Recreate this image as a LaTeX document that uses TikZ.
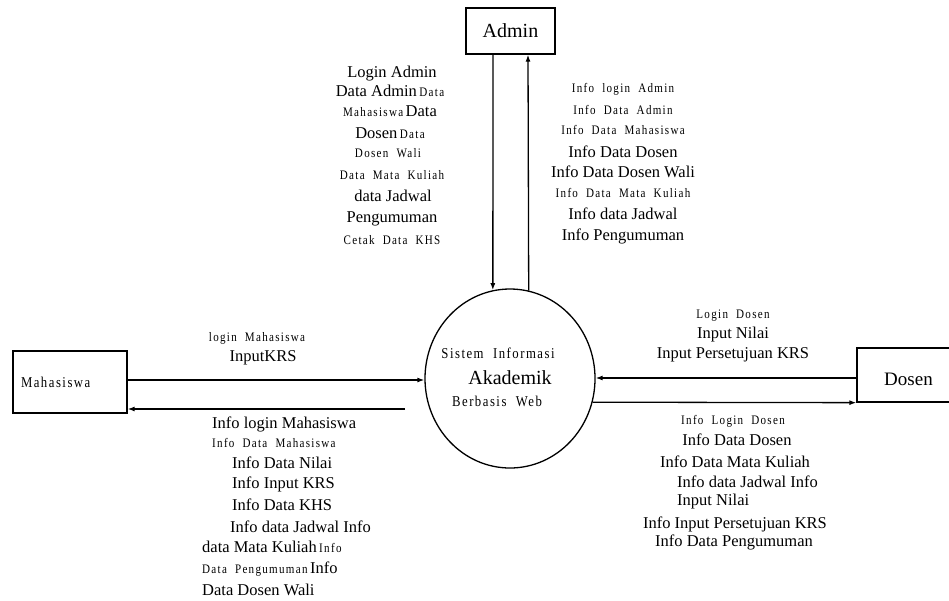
\documentclass[tikz,border=0pt]{standalone}
\usepackage{fontspec}
\setmainfont{Liberation Serif}
\newfontfamily\spfont[FakeStretch=0.85,LetterSpace=10,WordSpace=2]{Liberation Serif}
\usetikzlibrary{shapes.geometric,arrows.meta}
\newcommand\BigT[1]{{\fontsize{16.5}{19}\selectfont #1}}
\newcommand\SmT[1]{{\spfont\fontsize{13}{15}\selectfont #1}}
\newcommand\MidT[1]{{\spfont\fontsize{15}{17}\selectfont #1}}
\begin{document}
\begin{tikzpicture}[x=1pt,y=-1pt,
  ent/.style={draw,line width=1.3pt,inner sep=0pt},
  arr/.style={line width=1.3pt,-{Latex[length=7pt,width=5pt]}},
  lb/.style={anchor=base,inner sep=0pt},
  lbw/.style={anchor=base west,inner sep=0pt}]
\useasboundingbox (0,0) rectangle (949,600);

% entities
\node[ent,minimum width=89pt,minimum height=46pt,font=\fontsize{20}{22}\selectfont] (admin) at (510.5,31) {Admin};
\node[ent,minimum width=114pt,minimum height=62pt,text width=98pt,inner xsep=8pt,align=left] (mhs) at (70,382) {\MidT{Mahasiswa}};
\node[ent,minimum width=103pt,minimum height=54pt,font=\fontsize{19}{21}\selectfont] (dosen) at (908.5,375) {\raisebox{-4pt}[\height][0pt]{Dosen}};
\node[ellipse,draw,line width=1.3pt,minimum width=170pt,minimum height=179pt,inner sep=0pt] (sys) at (510,378.5) {};

% process text
\node[lb] (s1) at (498,358) {\MidT{Sistem Informasi}};
\node[lb] (s2) at (510,384) {\fontsize{20}{22}\selectfont Akademik};
\node[lb] (s3) at (497,406) {\MidT{Berbasis Web}};

% connectors
\draw[arr] ([xshift=-17.5pt]admin.south) -- (sys.101);
\draw[arr] (sys.78) -- ([xshift=17.5pt]admin.south);
\draw[arr] (mhs.east |- 0,380) -- (sys.west |- 0,380);
\coordinate (mret) at (405,409);
\draw[arr] (mret) -- (mhs.east |- mret);
\draw[arr] (dosen.west |- 0,378) -- (sys.east |- 0,378);
\draw[arr] (sys.-16) -- (dosen.south west);

% admin -> system labels
\node[lb] (a1) at (392,77) {\BigT{Login Admin}};
\node[lb] (a2) at (390,96) {\BigT{Data Admin} \SmT{Data}};
\node[lb] (a3) at (390,116) {\SmT{Mahasiswa} \BigT{Data}};
\node[lb] (a4) at (390,138) {\BigT{Dosen} \SmT{Data}};
\node[lb] (a5) at (388,157) {\SmT{Dosen Wali}};
\node[lb] (a6) at (392,179) {\SmT{Data Mata Kuliah}};
\node[lb] (a7) at (393,201) {\BigT{data Jadwal}};
\node[lb] (a8) at (392,222) {\BigT{Pengumuman}};
\node[lb] (a9) at (392,244) {\SmT{Cetak Data KHS}};

% system -> admin labels
\node[lb] (b1) at (623,92) {\SmT{Info login Admin}};
\node[lb] (b2) at (623,114) {\SmT{Info Data Admin}};
\node[lb] (b3) at (623,134) {\SmT{Info Data Mahasiswa}};
\node[lb] (b4) at (623,157) {\BigT{Info Data Dosen}};
\node[lb] (b5) at (623,177) {\BigT{Info Data Dosen Wali}};
\node[lb] (b6) at (623,197) {\SmT{Info Data Mata Kuliah}};
\node[lb] (b7) at (623,219) {\BigT{Info data Jadwal}};
\node[lb] (b8) at (623,240) {\BigT{Info Pengumuman}};

% mahasiswa -> system labels
\node[lb] (c1) at (257,341) {\SmT{login Mahasiswa}};
\node[lb] (c2) at (263,361) {\BigT{InputKRS}};

% system -> mahasiswa labels
\node[lbw] (d1) at (212,428) {\BigT{Info login Mahasiswa}};
\node[lbw] (d2) at (212,447) {\SmT{Info Data Mahasiswa}};
\node[lbw] (d3) at (232,468) {\BigT{Info Data Nilai}};
\node[lbw] (d4) at (232,488) {\BigT{Info Input KRS}};
\node[lbw] (d5) at (232,510) {\BigT{Info Data KHS}};
\node[lbw] (d6) at (230,532) {\BigT{Info data Jadwal Info}};
\node[lbw] (d7) at (202,552) {\BigT{data Mata Kuliah} \SmT{Info}};
\node[lbw] (d8) at (202,573) {\SmT{Data Pengumuman} \BigT{Info}};
\node[lbw] (d9) at (202,595) {\BigT{Data Dosen Wali}};

% dosen -> system labels
\node[lb] (e1) at (733,318) {\SmT{Login Dosen}};
\node[lb] (e2) at (733,338) {\BigT{Input Nilai}};
\node[lb] (e3) at (733,358) {\BigT{Input Persetujuan KRS}};

% system -> dosen labels
\node[lb] (f1) at (733,424) {\SmT{Info Login Dosen}};
\node[lb] (f2) at (737,445) {\BigT{Info Data Dosen}};
\node[lb] (f3) at (735,467) {\BigT{Info Data Mata Kuliah}};
\node[lbw] (f4) at (677,487) {\BigT{Info data Jadwal Info}};
\node[lbw] (f5) at (677,505) {\BigT{Input Nilai}};
\node[lb] (f6) at (735,528) {\BigT{Info Input Persetujuan KRS}};
\node[lb] (f7) at (734,546) {\BigT{Info Data Pengumuman}};
\end{tikzpicture}
\end{document}
